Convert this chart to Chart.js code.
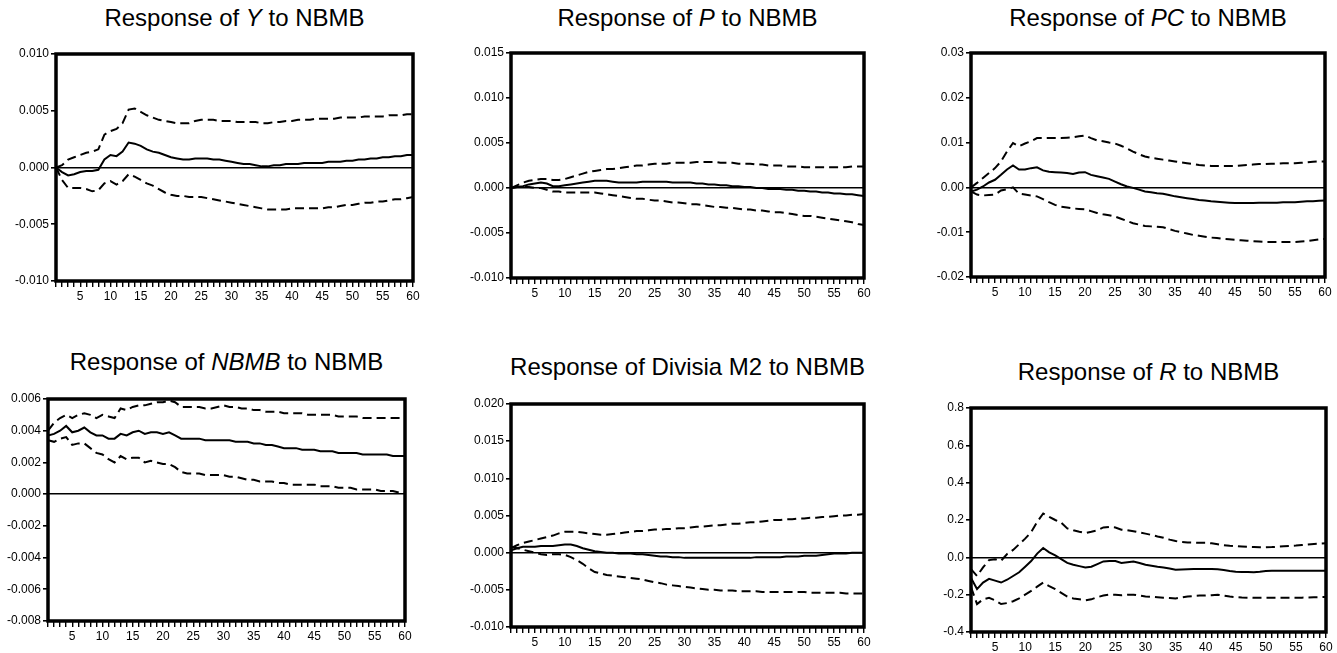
<!DOCTYPE html>
<html><head><meta charset="utf-8">
<script src="https://cdn.jsdelivr.net/npm/chart.js@4.4.1/dist/chart.umd.min.js"></script>
<style>
html,body{margin:0;padding:0;background:#fff;width:1337px;height:653px;overflow:hidden;position:relative;font-family:'Liberation Sans',Arial,Helvetica,sans-serif;}
.title{position:absolute;font-size:24px;line-height:24px;white-space:nowrap;transform:translateX(-50%);color:#000;}
.panel{position:absolute;}
</style></head><body>
<script>
const periods = [1,2,3,4,5,6,7,8,9,10,11,12,13,14,15,16,17,18,19,20,21,22,23,24,25,26,27,28,29,30,31,32,33,34,35,36,37,38,39,40,41,42,43,44,45,46,47,48,49,50,51,52,53,54,55,56,57,58,59,60];

// Response of Y to NBMB
const yResp  = [0.0000,-0.0004,-0.0007,-0.0006,-0.0004,-0.0003,-0.0003,-0.0002,0.0007,0.0011,0.0010,0.0014,0.0022,0.0021,0.0019,0.0016,0.0014,0.0013,0.0011,0.0009,0.0008,0.0007,0.0007,0.0008,0.0008,0.0008,0.0007,0.0007,0.0006,0.0005,0.0004,0.0003,0.0003,0.0002,0.0001,0.0001,0.0002,0.0002,0.0003,0.0003,0.0003,0.0004,0.0004,0.0004,0.0004,0.0005,0.0005,0.0005,0.0006,0.0006,0.0007,0.0007,0.0008,0.0008,0.0009,0.0009,0.0010,0.0010,0.0011,0.0011];
const yUpper = [0.0000,0.0002,0.0007,0.0009,0.0011,0.0013,0.0014,0.0016,0.0029,0.0032,0.0034,0.0039,0.0051,0.0052,0.0049,0.0046,0.0044,0.0042,0.0041,0.0040,0.0039,0.0039,0.0039,0.0041,0.0042,0.0042,0.0042,0.0041,0.0041,0.0041,0.0040,0.0040,0.0040,0.0040,0.0039,0.0039,0.0040,0.0040,0.0041,0.0041,0.0042,0.0042,0.0042,0.0043,0.0043,0.0043,0.0043,0.0044,0.0044,0.0044,0.0044,0.0045,0.0045,0.0045,0.0045,0.0046,0.0046,0.0046,0.0047,0.0047];
const yLower = [0.0000,-0.0011,-0.0018,-0.0018,-0.0018,-0.0019,-0.0021,-0.0020,-0.0014,-0.0012,-0.0015,-0.0012,-0.0006,-0.0008,-0.0011,-0.0014,-0.0016,-0.0019,-0.0022,-0.0024,-0.0025,-0.0025,-0.0026,-0.0026,-0.0026,-0.0027,-0.0028,-0.0029,-0.0030,-0.0031,-0.0032,-0.0033,-0.0034,-0.0035,-0.0036,-0.0037,-0.0037,-0.0037,-0.0037,-0.0036,-0.0036,-0.0036,-0.0036,-0.0036,-0.0036,-0.0035,-0.0035,-0.0034,-0.0033,-0.0033,-0.0032,-0.0031,-0.0031,-0.0030,-0.0030,-0.0029,-0.0028,-0.0028,-0.0027,-0.0026];

// Response of P to NBMB
const pResp  = [0.0000,0.0001,0.0002,0.0004,0.0005,0.0006,0.0005,0.0002,0.0002,0.0003,0.0004,0.0005,0.0006,0.0007,0.0008,0.0008,0.0008,0.0007,0.0006,0.0006,0.0006,0.0006,0.0007,0.0007,0.0007,0.0007,0.0007,0.0006,0.0006,0.0006,0.0006,0.0005,0.0005,0.0004,0.0004,0.0003,0.0003,0.0002,0.0002,0.0001,0.0001,0.0000,0.0000,-0.0001,-0.0001,-0.0001,-0.0002,-0.0002,-0.0003,-0.0003,-0.0004,-0.0004,-0.0005,-0.0005,-0.0006,-0.0006,-0.0007,-0.0007,-0.0008,-0.0009];
const pUpper = [0.0000,0.0003,0.0006,0.0008,0.0009,0.0010,0.0010,0.0009,0.0009,0.0010,0.0012,0.0014,0.0016,0.0018,0.0019,0.0020,0.0021,0.0021,0.0022,0.0023,0.0024,0.0025,0.0025,0.0026,0.0027,0.0027,0.0027,0.0028,0.0028,0.0028,0.0028,0.0029,0.0029,0.0029,0.0029,0.0028,0.0028,0.0028,0.0027,0.0027,0.0027,0.0026,0.0026,0.0025,0.0025,0.0025,0.0024,0.0024,0.0024,0.0023,0.0023,0.0023,0.0023,0.0023,0.0023,0.0023,0.0023,0.0024,0.0024,0.0024];
const pLower = [0.0000,0.0001,0.0001,0.0001,0.0000,0.0000,-0.0002,-0.0004,-0.0004,-0.0005,-0.0005,-0.0005,-0.0005,-0.0005,-0.0005,-0.0006,-0.0007,-0.0008,-0.0009,-0.0010,-0.0011,-0.0012,-0.0012,-0.0013,-0.0014,-0.0014,-0.0015,-0.0016,-0.0016,-0.0017,-0.0018,-0.0018,-0.0019,-0.0020,-0.0021,-0.0021,-0.0022,-0.0022,-0.0023,-0.0024,-0.0024,-0.0025,-0.0025,-0.0026,-0.0027,-0.0027,-0.0028,-0.0029,-0.0030,-0.0031,-0.0031,-0.0032,-0.0033,-0.0034,-0.0035,-0.0036,-0.0037,-0.0038,-0.0040,-0.0041];

// Response of PC to NBMB
const pcResp  = [-0.0009,-0.0005,0.0002,0.0011,0.0017,0.0028,0.0040,0.0049,0.0040,0.0040,0.0043,0.0045,0.0038,0.0035,0.0034,0.0033,0.0032,0.0030,0.0033,0.0034,0.0028,0.0025,0.0022,0.0019,0.0013,0.0007,0.0002,-0.0001,-0.0005,-0.0009,-0.0011,-0.0013,-0.0014,-0.0017,-0.0020,-0.0022,-0.0024,-0.0026,-0.0028,-0.0029,-0.0031,-0.0032,-0.0033,-0.0034,-0.0035,-0.0035,-0.0035,-0.0035,-0.0034,-0.0034,-0.0034,-0.0034,-0.0033,-0.0033,-0.0033,-0.0032,-0.0031,-0.0031,-0.0030,-0.0029];
const pcUpper = [0.0000,0.0010,0.0021,0.0032,0.0043,0.0058,0.0080,0.0099,0.0092,0.0098,0.0103,0.0110,0.0110,0.0110,0.0110,0.0110,0.0111,0.0112,0.0114,0.0116,0.0110,0.0105,0.0103,0.0100,0.0098,0.0093,0.0087,0.0080,0.0074,0.0069,0.0066,0.0064,0.0062,0.0060,0.0058,0.0056,0.0054,0.0052,0.0050,0.0049,0.0048,0.0048,0.0048,0.0048,0.0048,0.0049,0.0050,0.0051,0.0052,0.0052,0.0053,0.0053,0.0054,0.0054,0.0054,0.0055,0.0056,0.0057,0.0058,0.0058];
const pcLower = [-0.0009,-0.0016,-0.0018,-0.0017,-0.0016,-0.0007,-0.0004,0.0000,-0.0014,-0.0016,-0.0018,-0.0020,-0.0026,-0.0033,-0.0039,-0.0043,-0.0045,-0.0047,-0.0048,-0.0049,-0.0053,-0.0057,-0.0060,-0.0062,-0.0065,-0.0070,-0.0075,-0.0080,-0.0083,-0.0086,-0.0087,-0.0088,-0.0089,-0.0093,-0.0097,-0.0100,-0.0103,-0.0106,-0.0108,-0.0110,-0.0112,-0.0113,-0.0115,-0.0116,-0.0117,-0.0118,-0.0119,-0.0120,-0.0121,-0.0122,-0.0122,-0.0122,-0.0122,-0.0122,-0.0122,-0.0121,-0.0120,-0.0118,-0.0116,-0.0115];

// Response of NBMB to NBMB
const nbResp  = [0.0037,0.0038,0.0040,0.0043,0.0039,0.0040,0.0042,0.0039,0.0037,0.0037,0.0035,0.0035,0.0038,0.0037,0.0039,0.0040,0.0038,0.0039,0.0039,0.0038,0.0039,0.0037,0.0035,0.0035,0.0035,0.0035,0.0034,0.0034,0.0034,0.0034,0.0034,0.0033,0.0033,0.0033,0.0032,0.0032,0.0031,0.0031,0.0030,0.0029,0.0029,0.0029,0.0028,0.0028,0.0028,0.0027,0.0027,0.0027,0.0026,0.0026,0.0026,0.0026,0.0025,0.0025,0.0025,0.0025,0.0025,0.0024,0.0024,0.0024];
const nbUpper = [0.0040,0.0045,0.0048,0.0050,0.0048,0.0050,0.0051,0.0050,0.0048,0.0050,0.0049,0.0048,0.0054,0.0053,0.0055,0.0056,0.0056,0.0057,0.0058,0.0058,0.0059,0.0058,0.0055,0.0055,0.0055,0.0055,0.0054,0.0054,0.0055,0.0056,0.0055,0.0055,0.0054,0.0054,0.0053,0.0053,0.0052,0.0052,0.0052,0.0051,0.0051,0.0051,0.0051,0.0050,0.0050,0.0050,0.0050,0.0050,0.0049,0.0049,0.0049,0.0049,0.0048,0.0048,0.0048,0.0048,0.0048,0.0048,0.0048,0.0048];
const nbLower = [0.0034,0.0033,0.0035,0.0036,0.0031,0.0032,0.0032,0.0029,0.0026,0.0025,0.0022,0.0020,0.0024,0.0022,0.0023,0.0023,0.0020,0.0021,0.0020,0.0019,0.0019,0.0017,0.0014,0.0013,0.0013,0.0013,0.0012,0.0012,0.0012,0.0012,0.0011,0.0011,0.0010,0.0009,0.0009,0.0008,0.0008,0.0008,0.0007,0.0007,0.0006,0.0006,0.0006,0.0006,0.0006,0.0005,0.0005,0.0005,0.0004,0.0004,0.0004,0.0003,0.0003,0.0003,0.0003,0.0002,0.0002,0.0002,0.0001,0.0001];

// Response of Divisia M2 to NBMB
const dmResp  = [0.0003,0.0006,0.0008,0.0008,0.0008,0.0009,0.0009,0.0009,0.0010,0.0011,0.0011,0.0009,0.0006,0.0004,0.0002,0.0001,0.0000,0.0000,-0.0001,-0.0001,-0.0001,-0.0002,-0.0002,-0.0003,-0.0004,-0.0005,-0.0005,-0.0006,-0.0006,-0.0007,-0.0007,-0.0007,-0.0007,-0.0007,-0.0007,-0.0007,-0.0007,-0.0007,-0.0007,-0.0007,-0.0007,-0.0006,-0.0006,-0.0006,-0.0006,-0.0006,-0.0005,-0.0005,-0.0005,-0.0004,-0.0004,-0.0004,-0.0003,-0.0002,-0.0001,-0.0001,-0.0001,0.0000,0.0000,0.0000];
const dmUpper = [0.0006,0.0010,0.0013,0.0015,0.0017,0.0019,0.0021,0.0023,0.0026,0.0028,0.0028,0.0028,0.0027,0.0026,0.0025,0.0024,0.0024,0.0025,0.0026,0.0027,0.0028,0.0029,0.0029,0.0030,0.0031,0.0031,0.0032,0.0032,0.0033,0.0033,0.0034,0.0035,0.0035,0.0036,0.0037,0.0037,0.0038,0.0039,0.0039,0.0040,0.0041,0.0041,0.0042,0.0043,0.0044,0.0044,0.0045,0.0045,0.0046,0.0046,0.0047,0.0047,0.0048,0.0048,0.0049,0.0050,0.0050,0.0051,0.0051,0.0052];
const dmLower = [0.0008,0.0006,0.0004,0.0002,0.0000,-0.0002,-0.0003,-0.0002,-0.0002,-0.0003,-0.0006,-0.0010,-0.0015,-0.0021,-0.0026,-0.0028,-0.0030,-0.0031,-0.0032,-0.0033,-0.0034,-0.0035,-0.0036,-0.0038,-0.0040,-0.0041,-0.0043,-0.0044,-0.0045,-0.0046,-0.0047,-0.0048,-0.0049,-0.0050,-0.0050,-0.0051,-0.0051,-0.0051,-0.0052,-0.0052,-0.0052,-0.0052,-0.0053,-0.0053,-0.0053,-0.0053,-0.0053,-0.0053,-0.0053,-0.0053,-0.0054,-0.0054,-0.0054,-0.0054,-0.0054,-0.0054,-0.0055,-0.0055,-0.0055,-0.0055];

// Response of R to NBMB
const rResp  = [-0.110,-0.170,-0.135,-0.115,-0.125,-0.135,-0.120,-0.100,-0.080,-0.050,-0.020,0.020,0.050,0.027,0.010,-0.010,-0.030,-0.040,-0.047,-0.054,-0.050,-0.036,-0.022,-0.020,-0.020,-0.030,-0.026,-0.022,-0.030,-0.040,-0.045,-0.050,-0.054,-0.060,-0.067,-0.065,-0.064,-0.063,-0.063,-0.063,-0.063,-0.064,-0.068,-0.073,-0.077,-0.078,-0.079,-0.080,-0.077,-0.073,-0.072,-0.072,-0.072,-0.072,-0.072,-0.072,-0.072,-0.072,-0.072,-0.072];
const rUpper = [-0.063,-0.100,-0.054,-0.015,-0.010,-0.018,0.018,0.040,0.070,0.100,0.135,0.190,0.235,0.217,0.200,0.185,0.155,0.145,0.137,0.130,0.137,0.145,0.160,0.163,0.160,0.148,0.145,0.140,0.133,0.127,0.120,0.112,0.105,0.095,0.087,0.083,0.080,0.079,0.078,0.078,0.075,0.070,0.065,0.062,0.060,0.058,0.056,0.055,0.054,0.054,0.055,0.057,0.059,0.061,0.063,0.066,0.069,0.072,0.074,0.076];
const rLower = [-0.160,-0.250,-0.225,-0.217,-0.230,-0.250,-0.245,-0.235,-0.220,-0.200,-0.180,-0.157,-0.135,-0.154,-0.170,-0.190,-0.210,-0.220,-0.225,-0.230,-0.225,-0.213,-0.205,-0.200,-0.200,-0.203,-0.200,-0.200,-0.205,-0.210,-0.212,-0.214,-0.216,-0.218,-0.220,-0.215,-0.210,-0.207,-0.205,-0.205,-0.203,-0.200,-0.205,-0.210,-0.213,-0.215,-0.216,-0.217,-0.217,-0.217,-0.217,-0.217,-0.217,-0.217,-0.217,-0.216,-0.215,-0.214,-0.213,-0.213];

// Layout (plot-frame rectangles in page pixels) and axis settings
const panels = [
  {title:'Response of <i>Y</i> to NBMB',        box:[56,54,413,281],   capTop:9,   min:-0.010, max:0.010, step:0.005, dec:3, mid:yResp,  up:yUpper,  lo:yLower},
  {title:'Response of <i>P</i> to NBMB',        box:[511,53,864,278],  capTop:9,   min:-0.010, max:0.015, step:0.005, dec:3, mid:pResp,  up:pUpper,  lo:pLower},
  {title:'Response of <i>PC</i> to NBMB',       box:[971,53,1325,277], capTop:9,   min:-0.02,  max:0.03,  step:0.01,  dec:2, mid:pcResp, up:pcUpper, lo:pcLower},
  {title:'Response of <i>NBMB</i> to NBMB',     box:[48,399,405,621],  capTop:353, min:-0.008, max:0.006, step:0.002, dec:3, mid:nbResp, up:nbUpper, lo:nbLower},
  {title:'Response of Divisia M2 to NBMB',      box:[511,404,864,627], capTop:358, min:-0.010, max:0.020, step:0.005, dec:3, mid:dmResp, up:dmUpper, lo:dmLower},
  {title:'Response of <i>R</i> to NBMB',        box:[971,408,1326,632],capTop:363, min:-0.4,   max:0.8,   step:0.2,   dec:1, mid:rResp,  up:rUpper,  lo:rLower}
];

const FONT = "'Liberation Sans', Arial, Helvetica, sans-serif";
const YW = 56, XH = 26, PL = 2, PT = 12, PR = 16, PB = 2;

const framePlugin = {
  id: 'frame',
  afterDraw(chart) {
    const {ctx, chartArea: a} = chart;
    ctx.save();
    ctx.strokeStyle = '#000';
    ctx.lineWidth = 3.5;
    ctx.strokeRect(a.left, a.top, a.right - a.left, a.bottom - a.top);
    ctx.restore();
  }
};

panels.forEach(p => {
  const [l, t, r, b] = p.box;
  const w = PL + YW + (r - l) + PR;
  const h = PT + (b - t) + XH + PB;

  const tdiv = document.createElement('div');
  tdiv.className = 'title';
  tdiv.innerHTML = p.title;
  tdiv.style.left = ((l + r) / 2) + 'px';
  tdiv.style.top = (p.capTop - 3) + 'px';
  document.body.appendChild(tdiv);

  const div = document.createElement('div');
  div.className = 'panel';
  div.style.left = (l - YW - PL) + 'px';
  div.style.top = (t - PT) + 'px';
  div.style.width = w + 'px';
  div.style.height = h + 'px';
  const cv = document.createElement('canvas');
  cv.width = w; cv.height = h;
  cv.style.width = w + 'px'; cv.style.height = h + 'px';
  div.appendChild(cv);
  document.body.appendChild(div);

  const lineBase = {pointRadius: 0, borderColor: '#000', tension: 0, fill: false, borderCapStyle: 'butt'};
  new Chart(cv, {
    type: 'line',
    data: {
      labels: periods,
      datasets: [
        Object.assign({label: 'Response', data: p.mid, borderWidth: 2}, lineBase),
        Object.assign({label: 'Upper', data: p.up, borderWidth: 2, borderDash: [9, 5]}, lineBase),
        Object.assign({label: 'Lower', data: p.lo, borderWidth: 2, borderDash: [9, 5]}, lineBase)
      ]
    },
    options: {
      responsive: false,
      animation: false,
      devicePixelRatio: 1,
      layout: {padding: {left: PL, top: PT, right: PR, bottom: PB}},
      plugins: {legend: {display: false}, tooltip: {enabled: false}, title: {display: false}},
      scales: {
        x: {
          type: 'linear', min: 1, max: 60,
          afterFit(s) { s.height = XH; },
          border: {display: false},
          grid: {drawOnChartArea: false, drawTicks: true, tickLength: 6, color: '#000', lineWidth: 1.4},
          ticks: {stepSize: 1, autoSkip: false, maxRotation: 0, minRotation: 0, padding: 2, color: '#000',
                  font: {family: FONT, size: 12},
                  callback: v => (v % 5 === 0 ? String(v) : '')}
        },
        y: {
          min: p.min, max: p.max,
          afterFit(s) { s.width = YW; },
          border: {display: false},
          grid: {drawOnChartArea: true, tickLength: 5, tickColor: '#000', lineWidth: 1.6,
                 color: c => (c.tick && Math.abs(c.tick.value) < 1e-12 ? '#000' : 'rgba(0,0,0,0)')},
          ticks: {stepSize: p.step, padding: 2, color: '#000', font: {family: FONT, size: 12},
                  callback: v => Number(v).toFixed(p.dec)}
        }
      }
    },
    plugins: [framePlugin]
  });
});
</script>
</body></html>
